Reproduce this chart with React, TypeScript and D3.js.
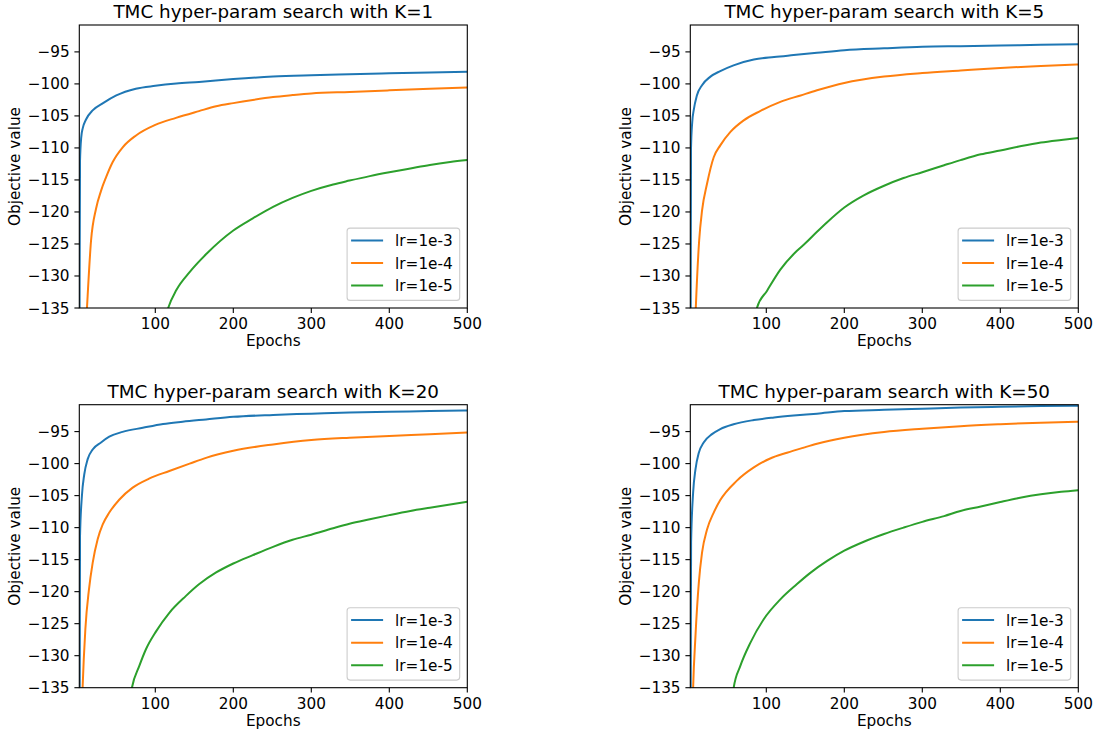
import React from "react";
import * as d3 from "d3";

// ---------- data (epoch, objective value) ----------
const panelTitles = [
  "TMC hyper-param search with K=1",
  "TMC hyper-param search with K=5",
  "TMC hyper-param search with K=20",
  "TMC hyper-param search with K=50",
];
const seriesLabels = ["lr=1e-3", "lr=1e-4", "lr=1e-5"];
const seriesColors = ["#1f77b4", "#ff7f0e", "#2ca02c"];
const xTicks = [100, 200, 300, 400, 500];
const yTicks = [-95, -100, -105, -110, -115, -120, -125, -130, -135];
const xDomain = [2.56, 500];
const yDomain = [-135, -90.8];

const k1_lr3: [number, number][] = [[2.6,-165],[3.0,-130],[3.5,-112],[5,-108.4],[7,-106.9],[11,-105.6],[20,-104.1],[33,-103.0],[50,-101.8],[75,-100.75],[100,-100.3],[127,-99.95],[156,-99.7],[200,-99.25],[251,-98.85],[300,-98.65],[349,-98.5],[400,-98.35],[452,-98.2],[500,-98.1]];
const k1_lr4: [number, number][] = [[10,-140.5],[12.4,-135],[17.6,-124.5],[24,-119.5],[30.4,-116.7],[36.8,-114.6],[45.4,-112.2],[58.2,-109.9],[75.3,-108.05],[100,-106.4],[126.5,-105.3],[156,-104.25],[178,-103.5],[200,-103.0],[225,-102.5],[251,-102.05],[276,-101.75],[300,-101.5],[349,-101.25],[400,-101.0],[452,-100.75],[500,-100.55]];
const k1_lr5: [number, number][] = [[110,-138],[116.5,-135],[127,-132.2],[144,-129.4],[166,-126.5],[200,-122.9],[225,-121.0],[251,-119.2],[276,-117.8],[300,-116.7],[328,-115.7],[349,-115.1],[375,-114.4],[400,-113.8],[427,-113.2],[452,-112.65],[478,-112.2],[500,-111.9]];

const k5_lr3: [number, number][] = [[2.6,-170],[3.1,-135],[3.5,-110],[5,-106],[6.9,-104.15],[11,-101.8],[17.6,-100.2],[28,-98.9],[41,-98.0],[58,-97.1],[84,-96.2],[110,-95.8],[135,-95.5],[165,-95.15],[200,-94.75],[251,-94.45],[300,-94.2],[349,-94.1],[400,-94.0],[452,-93.9],[500,-93.8]];
const k5_lr4: [number, number][] = [[7.5,-142],[9.6,-135],[13.9,-124.5],[17.6,-119.8],[24,-115.6],[32.6,-111.45],[41,-109.6],[54,-107.5],[71,-105.7],[92,-104.25],[118,-102.8],[144,-101.8],[165,-101.0],[200,-99.85],[251,-98.85],[300,-98.3],[349,-97.9],[400,-97.5],[452,-97.2],[500,-96.95]];
const k5_lr5: [number, number][] = [[84,-137],[88,-135],[101,-132.3],[118,-129.0],[139,-126.1],[150,-124.9],[165,-123.1],[178,-121.6],[200,-119.3],[225,-117.4],[251,-115.9],[276,-114.7],[300,-113.8],[328,-112.7],[349,-111.9],[375,-111.0],[400,-110.4],[427,-109.7],[452,-109.15],[478,-108.75],[500,-108.45]];

const k20_lr3: [number, number][] = [[2.6,-170],[3.2,-130],[3.5,-111.3],[5.9,-105.05],[8.9,-101.7],[13.3,-99.3],[19.7,-97.8],[30.4,-96.7],[41,-95.8],[58,-95.05],[84,-94.4],[110,-93.8],[135,-93.45],[165,-93.1],[200,-92.7],[251,-92.4],[300,-92.2],[349,-92.0],[400,-91.9],[452,-91.8],[500,-91.7]];
const k20_lr4: [number, number][] = [[5.5,-140],[6.8,-135],[10.3,-125.9],[15,-119.6],[19.7,-115.5],[26.1,-111.8],[32.6,-109.5],[41,-107.65],[54,-105.6],[71,-103.75],[92,-102.35],[118,-101.15],[144,-100.0],[165,-99.1],[200,-98.0],[251,-97.0],[300,-96.3],[349,-95.95],[400,-95.7],[452,-95.4],[500,-95.15]];
const k20_lr5: [number, number][] = [[66,-138],[70,-135],[79.5,-131.6],[88,-129.0],[101,-126.2],[118,-123.3],[139,-120.7],[156,-118.85],[178,-117.0],[200,-115.6],[225,-114.3],[251,-113.0],[276,-111.9],[300,-111.1],[328,-110.1],[349,-109.4],[375,-108.7],[400,-108.05],[427,-107.4],[452,-106.9],[478,-106.4],[500,-105.95]];

const k50_lr3: [number, number][] = [[2.6,-170],[3.2,-130],[3.6,-112.3],[6.2,-104.5],[9.2,-100.9],[13.5,-98.3],[19.7,-96.7],[30.4,-95.4],[41,-94.6],[58,-93.85],[84,-93.2],[110,-92.8],[135,-92.5],[165,-92.2],[200,-91.8],[251,-91.6],[300,-91.42],[349,-91.25],[400,-91.12],[452,-91.0],[500,-90.95]];
const k50_lr4: [number, number][] = [[5,-141],[6.2,-135],[9.2,-126.9],[13.5,-118.6],[17.6,-113.9],[24,-110.3],[32.6,-107.65],[41,-105.7],[62,-102.7],[84,-100.6],[105,-99.2],[126.5,-98.3],[148,-97.5],[165,-96.9],[200,-95.95],[251,-95.05],[300,-94.55],[349,-94.15],[400,-93.85],[452,-93.6],[500,-93.45]];
const k50_lr5: [number, number][] = [[55,-138],[58.2,-135],[66.7,-131.6],[79.5,-128.0],[96.7,-124.3],[118,-121.2],[139,-118.85],[156,-117.1],[178,-115.2],[200,-113.6],[225,-112.2],[251,-111.0],[276,-110.0],[300,-109.1],[328,-108.2],[349,-107.4],[375,-106.7],[400,-106.0],[427,-105.3],[452,-104.8],[478,-104.4],[500,-104.15]];

const panelSeries = [
  [k1_lr3, k1_lr4, k1_lr5],
  [k5_lr3, k5_lr4, k5_lr5],
  [k20_lr3, k20_lr4, k20_lr5],
  [k50_lr3, k50_lr4, k50_lr5],
];

// ---------- layout ----------
const W = 1094;
const H = 732;
const axW = 388;
const axH = 283;
const panelOrigins = [
  [79.3, 25],
  [690.3, 25],
  [79.3, 404.7],
  [690.3, 404.7],
];
const FONT = "'DejaVu Sans', sans-serif";
const FS = 15.28;

function fmt(v: number) {
  return v < 0 ? "\u2212" + Math.abs(v) : String(v);
}

function Panel({ idx }: { idx: number }) {
  const [left, top] = panelOrigins[idx];
  const x = d3.scaleLinear().domain(xDomain).range([left, left + axW]);
  const y = d3.scaleLinear().domain(yDomain).range([top + axH, top]);
  const line = d3
    .line<[number, number]>()
    .x((d) => x(d[0]))
    .y((d) => y(d[1]))
    .curve(d3.curveMonotoneX);
  const clipId = `clip-${idx}`;
  const bottom = top + axH;
  const right = left + axW;
  const legW = 112.6;
  const legH = 72.3;
  const legX = right - 7.6 - legW;
  const legY = bottom - 7.6 - legH;
  return (
    <g>
      <defs>
        <clipPath id={clipId}>
          <rect x={left} y={top} width={axW} height={axH} />
        </clipPath>
      </defs>
      <text
        x={left + axW / 2}
        y={top - 6.7}
        textAnchor="middle"
        fontFamily={FONT}
        fontSize={FS * 1.2}
        fill="#000"
      >
        {panelTitles[idx]}
      </text>
      <g clipPath={`url(#${clipId})`}>
        {panelSeries[idx].map((s, i) => (
          <path
            key={i}
            d={line(s) || ""}
            fill="none"
            stroke={seriesColors[i]}
            strokeWidth={2}
            strokeLinejoin="round"
          />
        ))}
      </g>
      <rect
        x={left}
        y={top}
        width={axW}
        height={axH}
        fill="none"
        stroke="#000"
        strokeWidth={1.1}
      />
      {xTicks.map((t) => (
        <g key={`x${t}`}>
          <line x1={x(t)} x2={x(t)} y1={bottom} y2={bottom + 4.9} stroke="#000" strokeWidth={1.1} />
          <text x={x(t)} y={bottom + 20.8} textAnchor="middle" fontFamily={FONT} fontSize={FS} fill="#000">
            {fmt(t)}
          </text>
        </g>
      ))}
      {yTicks.map((t) => (
        <g key={`y${t}`}>
          <line x1={left - 4.9} x2={left} y1={y(t)} y2={y(t)} stroke="#000" strokeWidth={1.1} />
          <text x={left - 9.7} y={y(t) + 5.5} textAnchor="end" fontFamily={FONT} fontSize={FS} fill="#000">
            {fmt(t)}
          </text>
        </g>
      ))}
      <text x={left + axW / 2} y={bottom + 37.8} textAnchor="middle" fontFamily={FONT} fontSize={FS} fill="#000">
        Epochs
      </text>
      <text
        transform={`translate(${left - 59},${top + axH / 2}) rotate(-90)`}
        textAnchor="middle"
        fontFamily={FONT}
        fontSize={FS}
        fill="#000"
      >
        Objective value
      </text>
      <rect
        x={legX}
        y={legY}
        width={legW}
        height={legH}
        rx={3}
        ry={3}
        fill="#fff"
        fillOpacity={0.8}
        stroke="#cccccc"
        strokeWidth={1.1}
      />
      {seriesLabels.map((lab, i) => {
        const ry = legY + 12.3 + i * 22.6;
        return (
          <g key={lab}>
            <line x1={legX + 4} x2={legX + 36} y1={ry} y2={ry} stroke={seriesColors[i]} strokeWidth={2} />
            <text x={legX + 48} y={ry + 5.5} fontFamily={FONT} fontSize={FS} fill="#000">
              {lab}
            </text>
          </g>
        );
      })}
    </g>
  );
}

export default function App() {
  return (
    <svg
      width={W}
      height={H}
      viewBox={`0 0 ${W} ${H}`}
      style={{ position: "absolute", left: 0, top: 0, background: "#fff" }}
    >
      <rect x={0} y={0} width={W} height={H} fill="#fff" />
      {[0, 1, 2, 3].map((i) => (
        <Panel key={i} idx={i} />
      ))}
    </svg>
  );
}
